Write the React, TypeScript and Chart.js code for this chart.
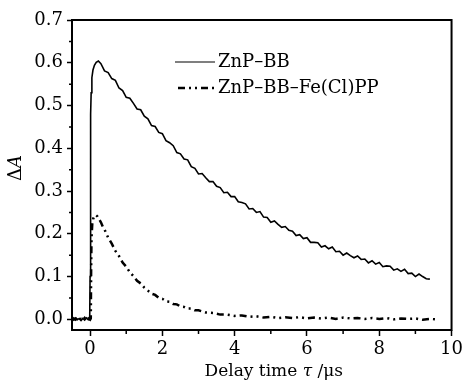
import { useEffect, useRef } from "react";
import { Chart, registerables } from "chart.js";

Chart.register(...registerables);

const seriesNames = ["ZnP–BB", "ZnP–BB–Fe(Cl)PP"];

const timeSolid = [
  -0.5, -0.45, -0.4, -0.35, -0.3, -0.25, -0.2, -0.15, -0.1, -0.05, -0.01,
  0.0, 0.01, 0.02, 0.03, 0.05, 0.08, 0.12, 0.17, 0.23,
  0.3, 0.4, 0.5, 0.6, 0.7, 0.8, 0.9, 1.0, 1.1, 1.2, 1.3, 1.4, 1.5, 1.6, 1.7, 1.8, 1.9,
  2.0, 2.1, 2.2, 2.3, 2.4, 2.5, 2.6, 2.7, 2.8, 2.9, 3.0, 3.1, 3.2, 3.3, 3.4, 3.5, 3.6, 3.7, 3.8, 3.9,
  4.0, 4.1, 4.2, 4.3, 4.4, 4.5, 4.6, 4.7, 4.8, 4.9, 5.0, 5.1, 5.2, 5.3, 5.4, 5.5, 5.6, 5.7, 5.8, 5.9,
  6.0, 6.1, 6.2, 6.3, 6.4, 6.5, 6.6, 6.7, 6.8, 6.9, 7.0, 7.1, 7.2, 7.3, 7.4, 7.5, 7.6, 7.7, 7.8, 7.9,
  8.0, 8.1, 8.2, 8.3, 8.4, 8.5, 8.6, 8.7, 8.8, 8.9, 9.0, 9.1, 9.2, 9.3, 9.4,
];
const valueSolid = [
  0.001, -0.002, 0.003, -0.001, 0.002, -0.003, 0.002, -0.002, 0.003, -0.001, 0.001,
  0.1, 0.35, 0.48, 0.53, 0.565, 0.583, 0.594, 0.601, 0.604,
  0.598, 0.581, 0.577, 0.563, 0.559, 0.541, 0.535, 0.519, 0.517, 0.505, 0.492, 0.49, 0.475, 0.469, 0.453, 0.451, 0.437,
  0.434, 0.418, 0.413, 0.406, 0.39, 0.387, 0.375, 0.373, 0.357, 0.353, 0.34, 0.341, 0.331, 0.322, 0.322, 0.311, 0.308, 0.296, 0.297, 0.287,
  0.287, 0.275, 0.273, 0.27, 0.258, 0.259, 0.25, 0.252, 0.239, 0.238, 0.227, 0.23, 0.222, 0.215, 0.217, 0.208, 0.206, 0.196, 0.198, 0.189,
  0.191, 0.18, 0.18, 0.179, 0.169, 0.172, 0.165, 0.169, 0.158, 0.159, 0.15, 0.155, 0.149, 0.144, 0.148, 0.14, 0.141, 0.132, 0.137, 0.129,
  0.133, 0.123, 0.125, 0.124, 0.115, 0.118, 0.112, 0.117, 0.107, 0.108, 0.1, 0.106, 0.1, 0.095, 0.094,
];

const timeDashed = [
  -0.5, -0.45, -0.4, -0.35, -0.3, -0.25, -0.2, -0.15, -0.1, -0.05, 0.0, 0.02,
  0.03, 0.04, 0.06, 0.09, 0.12, 0.16, 0.2, 0.25, 0.3, 0.35, 0.4, 0.5, 0.6, 0.7, 0.8, 0.9,
  1.0, 1.1, 1.2, 1.3, 1.4, 1.5, 1.6, 1.7, 1.8, 1.9, 2.0, 2.1, 2.2, 2.3, 2.4, 2.5, 2.6, 2.7, 2.8, 2.9,
  3.0, 3.2, 3.4, 3.6, 3.8, 4.0, 4.2, 4.4, 4.6, 4.8, 5.0, 5.2, 5.4, 5.6, 5.8,
  6.0, 6.2, 6.4, 6.6, 6.8, 7.0, 7.2, 7.4, 7.6, 7.8, 8.0, 8.2, 8.4, 8.6, 8.8, 9.0, 9.2, 9.4, 9.55,
];
const valueDashed = [
  -0.002, 0.002, -0.001, 0.003, -0.003, 0.001, -0.002, 0.003, -0.002, 0.002, -0.001, 0.002,
  0.12, 0.19, 0.222, 0.236, 0.242, 0.244, 0.241, 0.234, 0.227, 0.217, 0.21, 0.191, 0.177, 0.16, 0.148, 0.133,
  0.123, 0.11, 0.101, 0.09, 0.084, 0.074, 0.067, 0.06, 0.057, 0.05, 0.048, 0.042, 0.041, 0.036, 0.035, 0.03, 0.029, 0.025, 0.025, 0.021,
  0.021, 0.016, 0.015, 0.011, 0.011, 0.008, 0.009, 0.006, 0.007, 0.004, 0.006, 0.003, 0.005, 0.003, 0.005,
  0.002, 0.004, 0.002, 0.004, 0.001, 0.004, 0.002, 0.003, 0.001, 0.003, 0.001, 0.003, 0.0, 0.002, 0.001, 0.002, -0.001, 0.001, 0.0,
];

const xMajorTicks = [0, 2, 4, 6, 8, 10];
const xMinorTicks = [1, 3, 5, 7, 9];
const yMajorTicks = [0, 0.1, 0.2, 0.3, 0.4, 0.5, 0.6, 0.7];
const yMinorTicks = [0.05, 0.15, 0.25, 0.35, 0.45, 0.55, 0.65];

const FONT = "'DejaVu Serif', serif";
const DASH = [7, 4, 2, 4, 2, 4];

const decorPlugin = {
  id: "decor",
  afterDraw(chart: any) {
    const ctx = chart.ctx;
    const { left, right, top, bottom } = chart.chartArea;
    const xs = chart.scales.x;
    const ys = chart.scales.y;
    ctx.save();
    // frame
    ctx.strokeStyle = "#000";
    ctx.lineWidth = 2;
    ctx.strokeRect(left, top, right - left, bottom - top);
    // minor ticks
    ctx.lineWidth = 1.5;
    ctx.beginPath();
    xMinorTicks.forEach((v) => {
      const px = xs.getPixelForValue(v);
      ctx.moveTo(px, bottom);
      ctx.lineTo(px, bottom + 4);
    });
    yMinorTicks.forEach((v) => {
      const py = ys.getPixelForValue(v);
      ctx.moveTo(left, py);
      ctx.lineTo(left - 3, py);
    });
    ctx.stroke();

    // legend
    const lx0 = left + 103;
    const lx1 = left + 143;
    const tx = left + 146;
    const rows = [top + 42, top + 68];
    ctx.lineWidth = 1.2;
    ctx.beginPath();
    ctx.moveTo(lx0, rows[0]);
    ctx.lineTo(lx1, rows[0]);
    ctx.stroke();
    ctx.lineWidth = 2.5;
    ctx.setLineDash(DASH);
    ctx.beginPath();
    ctx.moveTo(lx0 + 3, rows[1]);
    ctx.lineTo(lx1, rows[1]);
    ctx.stroke();
    ctx.setLineDash([]);
    ctx.fillStyle = "#000";
    ctx.font = `18px ${FONT}`;
    ctx.textAlign = "left";
    ctx.textBaseline = "middle";
    ctx.fillText(seriesNames[0], tx, rows[0]);
    ctx.fillText(seriesNames[1], tx, rows[1]);

    // x title
    ctx.textBaseline = "alphabetic";
    const partsX = [
      { t: "Delay time ", f: `17px ${FONT}` },
      { t: "τ", f: `italic 17px ${FONT}` },
      { t: " /μs", f: `17px ${FONT}` },
    ];
    let total = 0;
    partsX.forEach((p) => {
      ctx.font = p.f;
      total += ctx.measureText(p.t).width;
    });
    let cx = (left + right) / 2 + 12 - total / 2;
    const by = bottom + 46;
    partsX.forEach((p) => {
      ctx.font = p.f;
      ctx.fillText(p.t, cx, by);
      cx += ctx.measureText(p.t).width;
    });

    // y title
    ctx.translate(21, (top + bottom) / 2 - 7);
    ctx.rotate(-Math.PI / 2);
    const partsY = [
      { t: "Δ", f: `18px ${FONT}` },
      { t: "A", f: `italic 18px ${FONT}` },
    ];
    total = 0;
    partsY.forEach((p) => {
      ctx.font = p.f;
      total += ctx.measureText(p.t).width;
    });
    let cy = -total / 2;
    partsY.forEach((p) => {
      ctx.font = p.f;
      ctx.fillText(p.t, cy, 0);
      cy += ctx.measureText(p.t).width;
    });
    ctx.restore();
  },
};

export default function App() {
  const ref = useRef<HTMLCanvasElement | null>(null);
  useEffect(() => {
    document.body.style.margin = "0";
    const canvas = ref.current!;
    const chart = new Chart(canvas, {
      type: "line",
      data: {
        datasets: [
          {
            label: seriesNames[0],
            data: timeSolid.map((x, i) => ({ x, y: valueSolid[i] })),
            borderColor: "#000",
            borderWidth: 1.6,
            pointRadius: 0,
            tension: 0,
          },
          {
            label: seriesNames[1],
            data: timeDashed.map((x, i) => ({ x, y: valueDashed[i] })),
            borderColor: "#000",
            borderWidth: 2.5,
            borderDash: DASH,
            pointRadius: 0,
            tension: 0,
          },
        ],
      },
      options: {
        responsive: false,
        animation: false,
        devicePixelRatio: 1,
        layout: { padding: { top: 20, right: 11, left: 0, bottom: 0 } },
        plugins: { legend: { display: false }, tooltip: { enabled: false } },
        scales: {
          x: {
            type: "linear",
            min: -0.5,
            max: 10,
            afterBuildTicks: (s: any) => {
              s.ticks = xMajorTicks.map((v) => ({ value: v }));
            },
            afterFit: (s: any) => {
              s.height = 52;
            },
            ticks: {
              font: { family: FONT, size: 18 },
              color: "#000",
              padding: 3,
              maxRotation: 0,
              autoSkip: false,
              callback: (v: any) => String(v),
            },
            grid: {
              drawOnChartArea: false,
              drawTicks: true,
              tickLength: 6,
              tickColor: "#000",
              tickWidth: 1.5,
            },
            border: { display: false },
          },
          y: {
            type: "linear",
            min: -0.025,
            max: 0.7,
            afterBuildTicks: (s: any) => {
              s.ticks = yMajorTicks.map((v) => ({ value: v }));
            },
            afterFit: (s: any) => {
              s.width = 72;
            },
            ticks: {
              font: { family: FONT, size: 18 },
              color: "#000",
              padding: 4,
              autoSkip: false,
              callback: (v: any) => Number(v).toFixed(1),
            },
            grid: {
              drawOnChartArea: false,
              drawTicks: true,
              tickLength: 5,
              tickColor: "#000",
              tickWidth: 1.5,
            },
            border: { display: false },
          },
        },
      },
      plugins: [decorPlugin],
    });
    return () => chart.destroy();
  }, []);
  return <canvas ref={ref} width={466} height={382} style={{ display: "block" }} />;
}
